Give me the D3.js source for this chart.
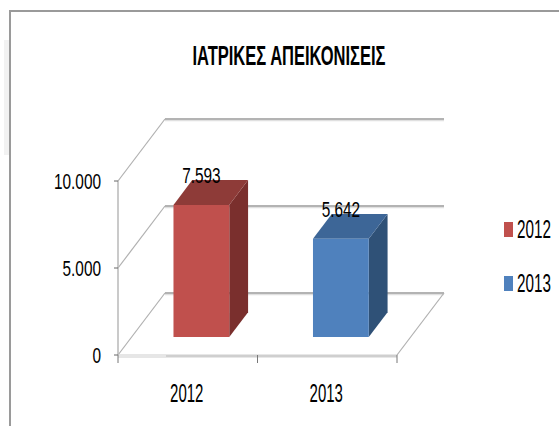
<!DOCTYPE html>
<html>
<head>
<meta charset="utf-8">
<script src="https://cdn.jsdelivr.net/npm/d3@7"></script>
<style>
  html, body { margin: 0; padding: 0; background: #fff; }
  text { font-family: "Liberation Sans", Arial, sans-serif; fill: #000; }
</style>
</head>
<body>
<svg id="chart" width="559" height="426"></svg>
<script>
const title = "ΙΑΤΡΙΚΕΣ ΑΠΕΙΚΟΝΙΣΕΙΣ";
const years = ["2012", "2013"];
const values = [7593, 5642];
const yTicks = [0, 5000, 10000];
const tickLabels = ["0", "5.000", "10.000"];
const valueLabels = ["7.593", "5.642"];

const colors = [
    { front: "#c0504d", top: "#8e3b38", side: "#7a2f2d" },
    { front: "#4f81bd", top: "#3d6697", side: "#2f5177" }
];

const svg = d3.select("#chart");

// frame
svg.append("rect")
    .attr("x", 4).attr("y", 40).attr("width", 6).attr("height", 115)
    .attr("fill", "#f2f2f2");
svg.append("rect")
    .attr("x", 10).attr("y", 11).attr("width", 600).attr("height", 500)
    .attr("fill", "#fff")
    .attr("stroke", "#9a9a9a")
    .attr("stroke-width", 2);

// front plane scales, plus the depth of the 3d box
const x = d3.scaleBand().domain(years).range([118, 397]).paddingInner(0.6).paddingOuter(0.3);
const xEdge = d3.scaleBand().domain(years).range([118, 397]);
const y = d3.scaleLinear().domain([0, 10000]).range([355, 181]);
const depth = { dx: 47, dy: -62 };
const barFront = 0.29, barBack = 0.69;

function shift(p, f) {
    return [p[0] + depth.dx * f, p[1] + depth.dy * f];
}
const line = d3.line();

const grid = svg.append("g");

// back wall gridlines
yTicks.forEach(v => {
    const a = shift([x.range()[0], y(v)], 1);
    const b = shift([x.range()[1], y(v)], 1);
    grid.append("path").attr("d", line([[a[0], a[1] + 1.5], [b[0], b[1] + 1.5]]))
        .attr("stroke", "#e0e0e0").attr("stroke-width", 1.5);
    grid.append("path").attr("d", line([a, b]))
        .attr("stroke", "#b3b3b3").attr("stroke-width", 2);
});

// side wall diagonals
yTicks.forEach(v => {
    const a = [x.range()[0], y(v)];
    grid.append("path").attr("d", line([a, shift(a, 1)]))
        .attr("stroke", "#b0b0b0").attr("stroke-width", 1.2);
});

// floor right edge
const fr = [x.range()[1], y(0)];
grid.append("path").attr("d", line([fr, shift(fr, 1)]))
    .attr("stroke", "#b0b0b0").attr("stroke-width", 1.2);

// floor front edge
grid.append("path").attr("d", line([[x.range()[0], y(0) + 1], [x.range()[1], y(0) + 1]]))
    .attr("stroke", "#cfcfcf").attr("stroke-width", 3);
grid.append("path").attr("d", line([[x.range()[0], y(0) + 1], [x.range()[0] + 48, y(0) + 1]]))
    .attr("stroke", "#e6e6e6").attr("stroke-width", 3);

// value axis line and ticks
grid.append("path").attr("d", line([[x.range()[0], y(0)], [x.range()[0], y(10000)]]))
    .attr("stroke", "#b8b8b8").attr("stroke-width", 1.5);
yTicks.forEach(v => {
    grid.append("path").attr("d", line([[x.range()[0] - 4, y(v)], [x.range()[0], y(v)]]))
        .attr("stroke", "#666").attr("stroke-width", 1);
});

// category ticks
const edges = years.map(d => xEdge(d)).concat([xEdge.range()[1]]);
edges.forEach(e => {
    grid.append("path").attr("d", line([[e, y(0)], [e, y(0) + 8]]))
        .attr("stroke", "#777").attr("stroke-width", 1);
});

// bars
const bars = svg.append("g");
years.forEach((yr, i) => {
    const x0 = x(yr), x1 = x(yr) + x.bandwidth();
    const top = y(values[i]), base = y(0);
    const fl = shift([x0, top], barFront), fr2 = shift([x1, top], barFront);
    const bl = shift([x0, base], barFront), br = shift([x1, base], barFront);
    const d = barBack - barFront;
    const tl = shift(fl, d), tr = shift(fr2, d), brb = shift(br, d);
    bars.append("path").attr("d", line([fr2, tr, brb, br]) + "Z").attr("fill", colors[i].side);
    bars.append("path").attr("d", line([fl, tl, tr, fr2]) + "Z").attr("fill", colors[i].top);
    bars.append("path").attr("d", line([fl, fr2, br, bl]) + "Z").attr("fill", colors[i].front);
});

// squeezed text helper
function label(g, px, py, txt, size, sx, anchor, weight) {
    return g.append("text")
        .attr("transform", `translate(${px},${py}) scale(${sx},1)`)
        .attr("text-anchor", anchor)
        .attr("font-size", size)
        .attr("font-weight", weight || "normal")
        .text(txt);
}

const texts = svg.append("g");

label(texts, 289, 65, title, 28, 0.59, "middle", "bold");

yTicks.forEach((v, i) => {
    label(texts, 101, y(v) + 8, tickLabels[i], 22, 0.7, "end");
});

years.forEach((yr, i) => {
    label(texts, xEdge(yr) + xEdge.bandwidth() / 2 - 1, 402, yr, 25, 0.6, "middle");
    const f = shift([x(yr) + x.bandwidth() / 2, y(values[i])], barFront);
    label(texts, f[0], f[1] - 21.5, valueLabels[i], 22, 0.7, "middle");
});

// legend
const legend = svg.append("g");
years.forEach((yr, i) => {
    const ly = 229.5 + i * 54;
    legend.append("rect")
        .attr("x", 504).attr("y", ly - 7.5).attr("width", 9).attr("height", 15)
        .attr("fill", colors[i].front);
    label(legend, 517, ly + 8.5, yr, 25, 0.61, "start");
});
</script>
</body>
</html>
